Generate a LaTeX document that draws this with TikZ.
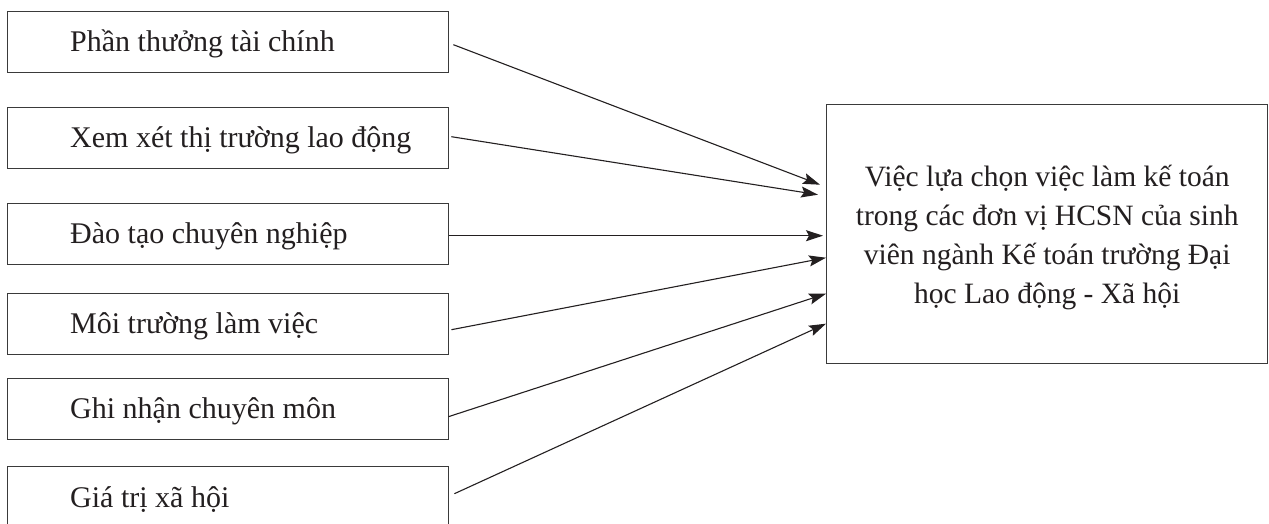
\documentclass[tikz,border=0pt]{standalone}
\usepackage{fontspec}
\setmainfont{Liberation Serif}
\usetikzlibrary{arrows.meta}
\definecolor{ink}{HTML}{231F20}
\definecolor{boxline}{HTML}{3A3A3A}
\begin{document}
\begin{tikzpicture}[x=1pt,y=-1pt,
  leftbox/.style={draw=boxline,line width=1.4pt,minimum width=441pt,minimum height=61pt,anchor=north west,inner sep=0pt},
  lbl/.style={anchor=west,inner sep=0pt,text=ink,font=\fontsize{30}{36}\selectfont},
  bigbox/.style={draw=boxline,line width=1.4pt,minimum width=441pt,minimum height=259pt,anchor=north west,inner sep=0pt},
  bigtext/.style={align=center,inner sep=0pt,text=ink,font=\fontsize{29.5}{39}\selectfont},
  conn/.style={draw=ink,line width=1.1pt,-{Stealth[length=17pt,width=11pt,inset=3pt]}}]
\useasboundingbox (0,0) rectangle (1269,524);
\fill[white] (0,0) rectangle (1269,524);
\node[leftbox] (b1) at (7,11) {};
\node[leftbox] (b2) at (7,107) {};
\node[leftbox] (b3) at (7,203) {};
\node[leftbox] (b4) at (7,293) {};
\node[leftbox] (b5) at (7,378) {};
\node[leftbox] (b6) at (7,466) {};
\node[lbl] (t1) at ([xshift=63pt,yshift=-2pt]b1.west) {Phần thưởng tài chính};
\node[lbl] (t2) at ([xshift=63pt,yshift=-2pt]b2.west) {Xem xét thị trường lao động};
\node[lbl] (t3) at ([xshift=63pt,yshift=-2pt]b3.west) {Đào tạo chuyên nghiệp};
\node[lbl] (t4) at ([xshift=63pt,yshift=-2pt]b4.west) {Môi trường làm việc};
\node[lbl] (t5) at ([xshift=63pt,yshift=-2pt]b5.west) {Ghi nhận chuyên môn};
\node[lbl] (t6) at ([xshift=63pt,yshift=-2pt]b6.west) {Giá trị xã hội};
\node[bigbox] (r) at (826,104) {};
\node[bigtext] (rt) at ([yshift=-3pt]r.center) {Việc lựa chọn việc làm kế toán\\trong các đơn vị HCSN của sinh\\viên ngành Kế toán trường Đại\\học Lao động - Xã hội};
\draw[conn] ([xshift=4pt,yshift=-2.5pt]b1.east) -- ([xshift=-6pt,yshift=49.5pt]r.west);
\draw[conn] ([xshift=2pt,yshift=1.5pt]b2.east) -- ([xshift=-8pt,yshift=39.5pt]r.west);
\draw[conn] ([yshift=-1.5pt]b3.east) -- ([xshift=-3pt,yshift=-1.5pt]r.west);
\draw[conn] ([xshift=2pt,yshift=-5.5pt]b4.east) -- ([yshift=-23.5pt]r.west);
\draw[conn] ([xshift=-1pt,yshift=-7.5pt]b5.east) -- ([yshift=-59.5pt]r.west);
\draw[conn] ([xshift=5pt,yshift=3.5pt]b6.east) -- ([yshift=-89.5pt]r.west);
\end{tikzpicture}
\end{document}
